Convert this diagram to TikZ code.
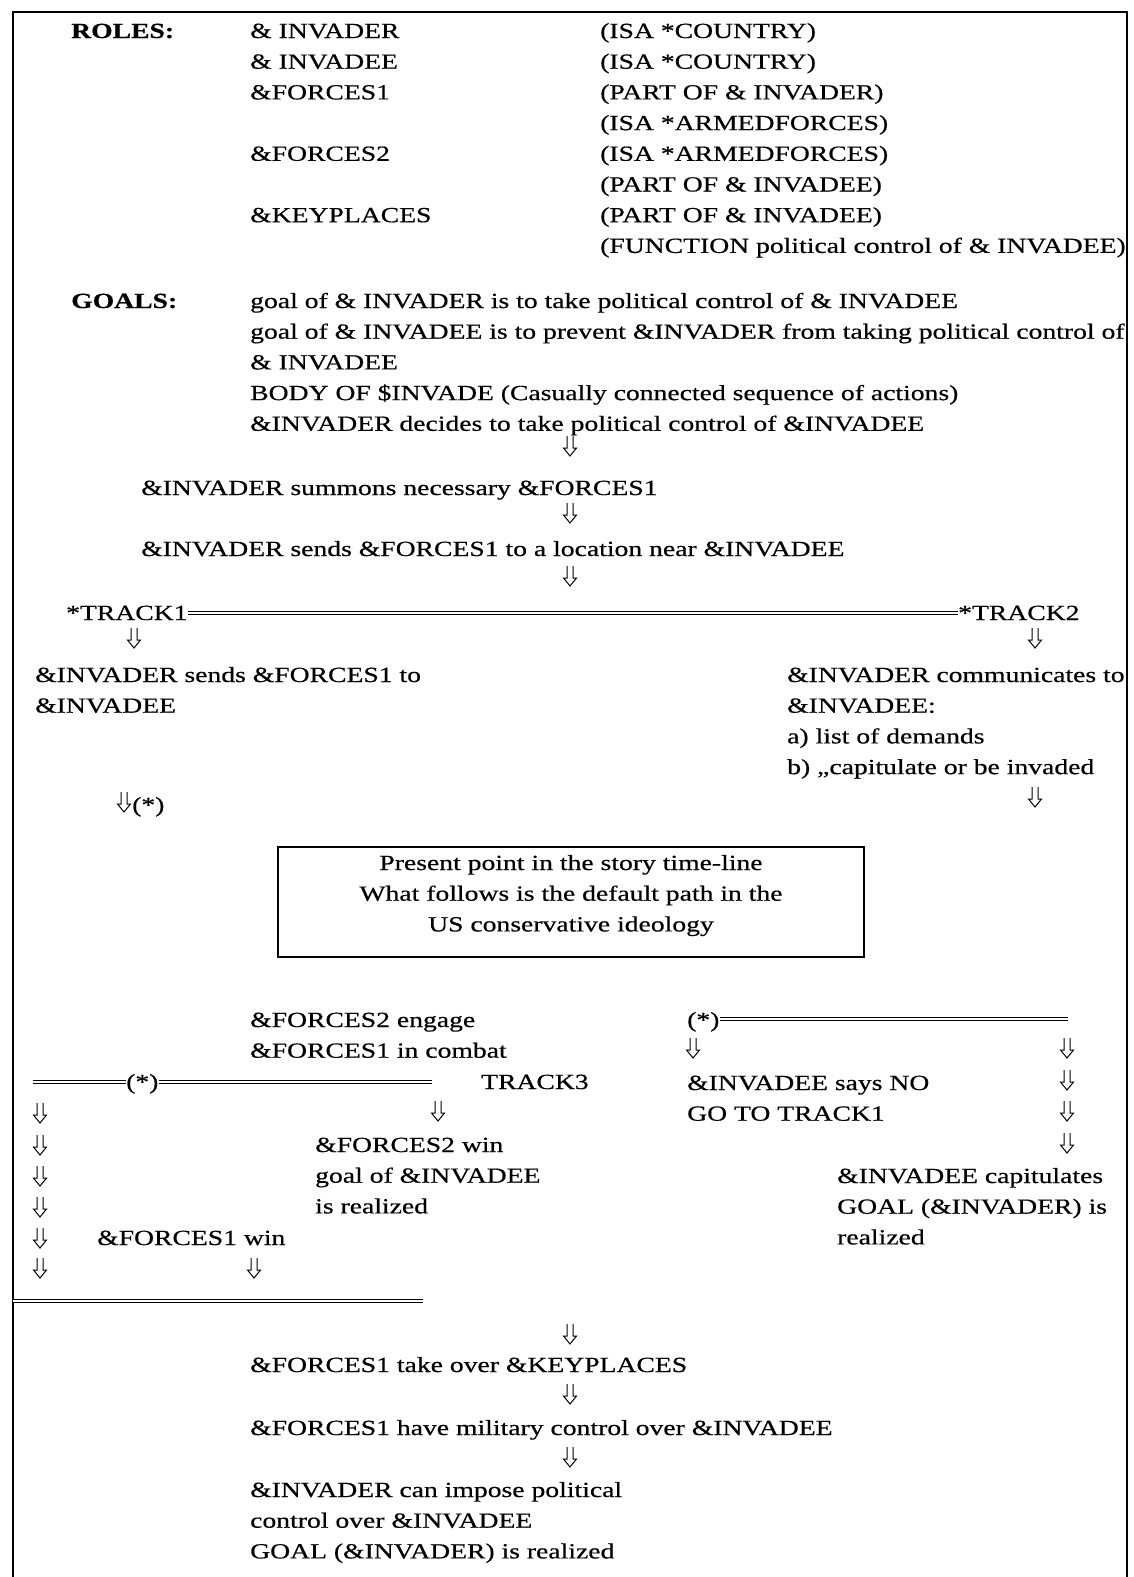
\documentclass[tikz,border=0pt]{standalone}
\usepackage{fontspec}
\setmainfont{Liberation Serif}[FakeStretch=1.28,FakeBold=0.5]
\begin{document}
\begin{tikzpicture}[x=1pt,y=-1pt,
  txt/.style={anchor=base west, inner sep=0pt,
    font=\fontsize{21.6pt}{30.7pt}\selectfont},
  ctxt/.style={anchor=base, inner sep=0pt,
    font=\fontsize{21.6pt}{30.7pt}\selectfont},
  hd/.style={txt, font=\fontsize{21.6pt}{30.7pt}\selectfont\bfseries},
  dbl/.style={double, double distance=2pt, line width=1.3pt},
  frameline/.style={line width=2.2pt},
  boxline/.style={line width=1.3pt},
  dnarrow/.pic={\draw[line width=1pt, line join=miter]
    (-3,0) -- (-3,12) -- (-6.5,12) -- (0,20) -- (6.5,12) -- (3,12) -- (3,0);}
]
\useasboundingbox (0,0) rectangle (1133,1577);

% open frame
\draw[frameline] (13,1577) -- (13,12) -- (1127,12) -- (1127,1577);

% ROLES
\node[hd]  (roles) at (71,38)    {ROLES:};
\node[txt] (r1) at (250,38)      {\& INVADER};
\node[txt] (r2) at (250,68.7)    {\& INVADEE};
\node[txt] (r3) at (250,99.4)    {\&FORCES1};
\node[txt] (r4) at (250,160.8)   {\&FORCES2};
\node[txt] (r5) at (250,222.2)   {\&KEYPLACES};
\node[txt] (p1) at (600,38)      {(ISA *COUNTRY)};
\node[txt] (p2) at (600,68.7)    {(ISA *COUNTRY)};
\node[txt] (p3) at (600,99.4)    {(PART OF \& INVADER)};
\node[txt] (p4) at (600,130.1)   {(ISA *ARMEDFORCES)};
\node[txt] (p5) at (600,160.8)   {(ISA *ARMEDFORCES)};
\node[txt] (p6) at (600,191.5)   {(PART OF \& INVADEE)};
\node[txt] (p7) at (600,222.2)   {(PART OF \& INVADEE)};
\node[txt] (p8) at (600,252.9)   {(FUNCTION political control of \& INVADEE)};

% GOALS
\node[hd]  (goals) at (71,308)   {GOALS:};
\node[txt] (g1) at (250,308)     {goal of \& INVADER is to take political control of \& INVADEE};
\node[txt] (g2) at (250,338.7)   {goal of \& INVADEE is to prevent \&INVADER from taking political control of};
\node[txt] (g3) at (250,369.4)   {\& INVADEE};
\node[txt] (g4) at (250,400.1)   {BODY OF \$INVADE (Casually connected sequence of actions)};
\node[txt] (g5) at (250,430.8)   {\&INVADER decides to take political control of \&INVADEE};

% main sequence
\pic at (570,436) {dnarrow};
\node[txt] (summon) at (141,495) {\&INVADER summons necessary \&FORCES1};
\pic at (570,503) {dnarrow};
\node[txt] (near) at (141,556) {\&INVADER sends \&FORCES1 to a location near \&INVADEE};
\pic at (570,566) {dnarrow};

% the two tracks
\node[txt] (track1) at (66,620)  {*TRACK1};
\node[txt] (track2) at (958,620) {*TRACK2};
\draw[dbl] ([yshift=7pt]track1.base east) -- ([yshift=7pt]track2.base west);
\pic at (134,628) {dnarrow};
\pic at (1035,628) {dnarrow};

\node[txt] (s1) at (35,682)      {\&INVADER sends \&FORCES1 to};
\node[txt] (s2) at (35,712.7)    {\&INVADEE};
\node[txt] (c1) at (787,682)     {\&INVADER communicates to};
\node[txt] (c2) at (787,712.7)   {\&INVADEE:};
\node[txt] (c3) at (787,743.4)   {a) list of demands};
\node[txt] (c4) at (787,774.1)   {b) ,,capitulate or be invaded};
\pic at (1035,787) {dnarrow};
\pic at (124,792) {dnarrow};
\node[txt] (star1) at (132,812)  {(*)};

% present point
\draw[boxline] (278,847) rectangle (864,957);
\node[ctxt] (b1) at (571,870)    {Present point in the story time-line};
\node[ctxt] (b2) at (571,900.7)  {What follows is the default path in the};
\node[ctxt] (b3) at (571,931.4)  {US conservative ideology};

% TRACK3
\node[txt] (e1) at (250,1027)    {\&FORCES2 engage};
\node[txt] (e2) at (250,1057.7)  {\&FORCES1 in combat};
\coordinate (l3start) at (33,1082);
\node[txt] (star3) at (126,1089) {(*)};
\coordinate (l3end) at (432,1082);
\draw[dbl] (l3start) -- (l3start -| star3.west);
\draw[dbl] (l3end -| star3.east) -- (l3end);
\node[txt] (track3) at (481,1089) {TRACK3};
\pic at (438,1101) {dnarrow};
\node[txt] (w1) at (315,1152)    {\&FORCES2 win};
\node[txt] (w2) at (315,1182.7)  {goal of \&INVADEE};
\node[txt] (w3) at (315,1213.4)  {is realized};
\foreach \yy in {1103,1135,1166,1197,1228,1258} \pic at (40,\yy) {dnarrow};
\node[txt] (f1win) at (97,1245)  {\&FORCES1 win};
\pic at (254,1258) {dnarrow};
\coordinate (mergeL) at (13,1301);
\coordinate (mergeR) at (423,1301);
\draw[dbl] (mergeL) -- (mergeR);

% answer of the invadee
\node[txt] (star2) at (687,1027) {(*)};
\coordinate (l2end) at (1068,1019);
\draw[dbl] (l2end -| star2.east) -- (l2end);
\pic at (693,1038) {dnarrow};
\foreach \yy in {1038,1070,1101,1133} \pic at (1067,\yy) {dnarrow};
\node[txt] (n1) at (687,1090)    {\&INVADEE says NO};
\node[txt] (n2) at (687,1120.7)  {GO TO TRACK1};
\node[txt] (k1) at (837,1183)    {\&INVADEE capitulates};
\node[txt] (k2) at (837,1213.7)  {GOAL (\&INVADER) is};
\node[txt] (k3) at (837,1244.4)  {realized};

% outcome
\pic at (570,1324) {dnarrow};
\node[txt] (keyp) at (250,1372)  {\&FORCES1 take over \&KEYPLACES};
\pic at (570,1384) {dnarrow};
\node[txt] (milit) at (250,1435) {\&FORCES1 have military control over \&INVADEE};
\pic at (570,1447) {dnarrow};
\node[txt] (i1) at (250,1497)    {\&INVADER can impose political};
\node[txt] (i2) at (250,1527.7)  {control over \&INVADEE};
\node[txt] (i3) at (250,1558.4)  {GOAL (\&INVADER) is realized};
\end{tikzpicture}
\end{document}
